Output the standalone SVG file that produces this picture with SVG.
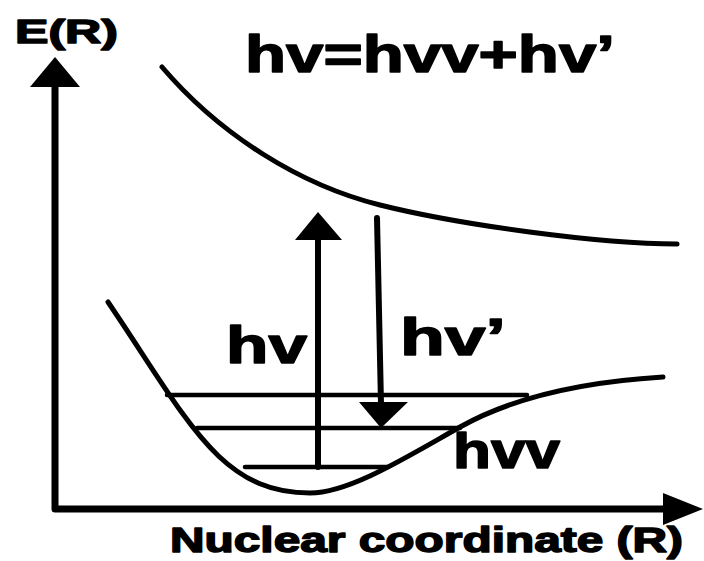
<svg xmlns="http://www.w3.org/2000/svg" width="704" height="561" viewBox="0 0 704 561">
<style>
.ln{fill:none;stroke:#000;stroke-linecap:round;stroke-linejoin:round}
.t{font-family:"Liberation Sans",Arial,sans-serif;font-weight:bold;fill:#000;stroke:#000;stroke-width:1.5;stroke-linejoin:round}
</style>
<rect width="704" height="561" fill="#fff"/>
<g id="axes">
<path class="ln" d="M55,84 L55,509 L666,509" stroke-width="7"/>
<polygon points="55,57 80,87 30,87" fill="#000"/>
<polygon points="703,509 663,493 663,525" fill="#000"/>
<text class="t" x="15" y="43" font-size="34" textLength="103" lengthAdjust="spacingAndGlyphs">E(R)</text>
<text class="t" x="170" y="552" font-size="35" textLength="513" lengthAdjust="spacingAndGlyphs">Nuclear coordinate (R)</text>
</g>
<g id="excited-curve">
<path class="ln" d="M162,67 C220,135 300,185 380,205 S600,244 677,244" stroke-width="5"/>
</g>
<g id="ground-curve">
<path class="ln" d="M108,302 C188,420 219,493 310,493 C350,493 410,455 460,427 C510,399 580,382 663,377" stroke-width="5"/>
</g>
<g id="levels">
<line class="ln" x1="167" y1="395" x2="527" y2="395" stroke-width="4.5"/>
<line class="ln" x1="197" y1="428" x2="460" y2="428" stroke-width="4.5"/>
<line class="ln" x1="245" y1="467" x2="388" y2="467" stroke-width="4.5"/>
</g>
<g id="connectors">
<line class="ln" x1="318" y1="238" x2="318" y2="467" stroke-width="6"/>
<polygon points="318,212 342,240 295,240" fill="#000"/>
<line class="ln" x1="377" y1="218" x2="381" y2="404" stroke-width="6"/>
<polygon points="381,428 408,402 359,402" fill="#000"/>
</g>
<g id="labels">
<text class="t" x="245" y="72" font-size="52" textLength="370" lengthAdjust="spacingAndGlyphs">hv=hvv+hv’</text>
<text class="t" x="226" y="363" font-size="52" textLength="81" lengthAdjust="spacingAndGlyphs">hv</text>
<text class="t" x="400" y="355" font-size="52" textLength="106" lengthAdjust="spacingAndGlyphs">hv’</text>
<text class="t" x="453" y="468" font-size="50" textLength="107" lengthAdjust="spacingAndGlyphs">hvv</text>
</g>
</svg>
